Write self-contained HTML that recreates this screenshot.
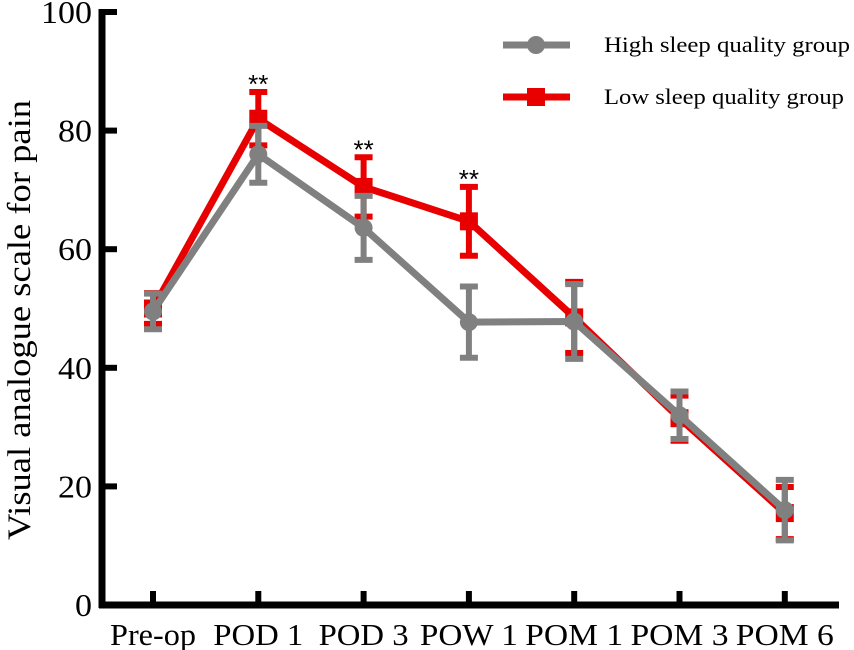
<!DOCTYPE html>
<html><head><meta charset="utf-8"><style>
html,body{margin:0;padding:0;background:#fff;}
svg{display:block;font-family:"Liberation Serif",serif;}
</style></head><body>
<svg id="chart" width="854" height="650" viewBox="0 0 854 650">
<g id="axes"></g><g id="series"></g><g id="legend"></g>
</svg>
<script>
const categories = ["Pre-op","POD 1","POD 3","POW 1","POM 1","POM 3","POM 6"];
const yTicks = [0,20,40,60,80,100];
const highMean = [49.5,76,63.6,47.7,47.8,32,16];
const highErr = [3,4.8,5.4,6,6.3,4,5.1];
const lowMean = [50,82,70.5,64.7,48.5,31.5,15.5];
const lowErr = [2.6,4.5,5,5.8,6,3.8,4.4];
const sigMarks = ["","**","**","**","","",""];

const NS="http://www.w3.org/2000/svg";
const gA=document.getElementById('axes'),gS=document.getElementById('series'),gL=document.getElementById('legend');
const x0=153,dx=105.3,yB=605,yT=12;
const xS=i=>x0+i*dx;
const yS=v=>yB-(v/100)*(yB-yT);
function mk(tag,attrs,parent){const e=document.createElementNS(NS,tag);for(const k in attrs)e.setAttribute(k,attrs[k]);parent.appendChild(e);return e;}

let e=mk('line',{x1:102,y1:yT-3,x2:102,y2:yB+3,stroke:'#000','stroke-width':7},gA);


e=mk('line',{x1:99,y1:yB,x2:839,y2:yB,stroke:'#000','stroke-width':7},gA);


yTicks.forEach(t=>{
  const y=yS(t);
  let tk=mk('line',{x1:102,y1:y,x2:117,y2:y,stroke:'#000','stroke-width':6},gA);
  
  
  const s=String(t);
  let tx=mk('text',{x:92-s.length*17,y:y+11,'font-size':32,textLength:s.length*17,lengthAdjust:'spacingAndGlyphs'},gA);
  tx.textContent=s;
  
  
});
categories.forEach((c,i)=>{
  const x=xS(i);
  let tk=mk('line',{x1:x,y1:yB,x2:x,y2:yB-14,stroke:'#000','stroke-width':6},gA);
  
  
  const w=c==='Pre-op'?86:(c.startsWith('POD')?90:98);
  let tx=mk('text',{x:x-w/2,y:645,'font-size':31,textLength:w,lengthAdjust:'spacingAndGlyphs'},gA);
  tx.textContent=c;
  
  
});
let yl=mk('text',{x:-220,y:0,'font-size':33,textLength:440,lengthAdjust:'spacingAndGlyphs',transform:'translate(30,320) rotate(-90)'},gA);
yl.textContent='Visual analogue scale for pain';



function drawSeries(mean,err,color,marker,name){
  const g=mk('g',{},gS);
  
  
  mean.forEach((m,i)=>{
    const x=xS(i);
    const eb=mk('path',{d:`M${x},${yS(m+err[i])}V${yS(m-err[i])}M${x-9},${yS(m+err[i])}H${x+9}M${x-9},${yS(m-err[i])}H${x+9}`,stroke:color,'stroke-width':6,fill:'none'},g);
    
    
  });
  const pl=mk('polyline',{points:mean.map((m,i)=>xS(i)+','+yS(m)).join(' '),stroke:color,'stroke-width':7,fill:'none','stroke-linejoin':'round'},g);
  
  
  mean.forEach((m,i)=>{
    const x=xS(i),y=yS(m);
    let p;
    if(marker==='circle')p=mk('circle',{cx:x,cy:y,r:9,fill:color},g);
    else p=mk('rect',{x:x-9,y:y-9,width:18,height:18,fill:color},g);
    
    
  });
}
drawSeries(lowMean,lowErr,'#e80000','square','low-sleep-series');
drawSeries(highMean,highErr,'#808080','circle','high-sleep-series');

sigMarks.forEach((s,i)=>{
  if(!s)return;
  const top=Math.max(highMean[i]+highErr[i],lowMean[i]+lowErr[i]);
  const t=mk('text',{x:xS(i),y:yS(top)+1,'text-anchor':'middle','font-size':26,'font-family':'Liberation Sans, sans-serif'},gS);
  t.textContent=s;
  
  
});

function legendEntry(y,color,marker,label,w){
  const g=mk('g',{},gL);
  
  
  mk('line',{x1:503,y1:y,x2:570,y2:y,stroke:color,'stroke-width':7},g);
  if(marker==='circle')mk('circle',{cx:536,cy:y,r:9,fill:color},g);
  else mk('rect',{x:527,y:y-9,width:18,height:18,fill:color},g);
  const t=mk('text',{x:604,y:y+7,'font-size':22,textLength:w,lengthAdjust:'spacingAndGlyphs'},g);
  t.textContent=label;
}
legendEntry(45,'#808080','circle','High sleep quality group',246);
legendEntry(97,'#e80000','square','Low sleep quality group',240);
</script>
</body></html>
